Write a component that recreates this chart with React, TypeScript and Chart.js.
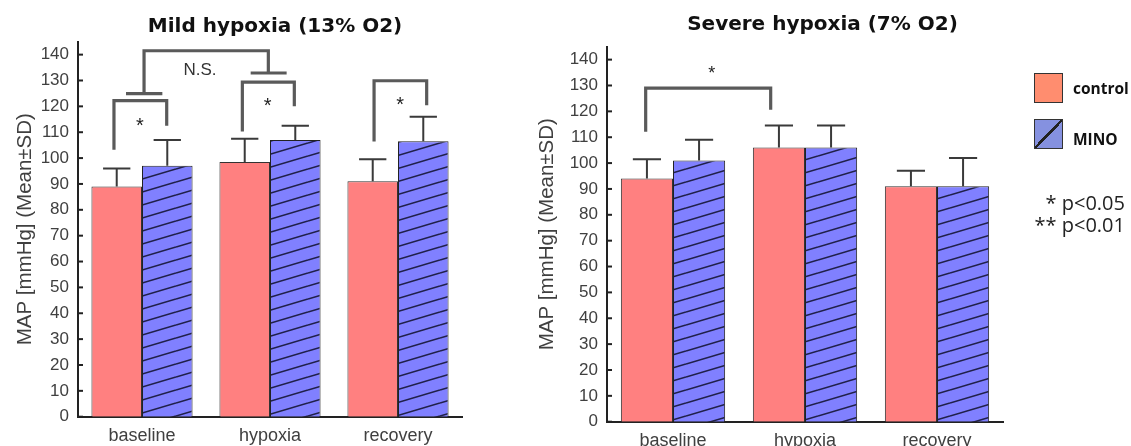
import React, { useEffect, useRef } from "react";
import { Chart, registerables } from "chart.js";

Chart.register(...registerables);

// ---------- data ----------
const categories = ["baseline", "hypoxia", "recovery"];
const seriesNames = ["control", "MINO"];

const mildControl = [89, 98.5, 91];
const mildControlSD = [7, 9, 8.5];
const mildMino = [97, 107, 106.5];
const mildMinoSD = [10, 5.5, 9.5];

const severeControl = [94, 106, 91];
const severeControlSD = [7.5, 8.5, 6];
const severeMino = [101, 106, 91];
const severeMinoSD = [8, 8.5, 11];

const yTickValues = [0, 10, 20, 30, 40, 50, 60, 70, 80, 90, 100, 110, 120, 130, 140];
const yMax = 145;
const chartTitles = ["Mild hypoxia (13% O2)", "Severe hypoxia (7% O2)"];
const yAxisTitle = "MAP [mmHg] (Mean±SD)";
const pLegend = ["* p<0.05", "** p<0.01"];

// significance brackets in (category index, value) units
const mildBrackets = [
  [[-0.219, 103.2], [-0.219, 122.2], [0.193, 122.2], [0.193, 112.5]],
  [[-0.125, 124.9], [0.159, 124.9]],
  [[0.016, 124.9], [0.016, 141.5], [0.987, 141.5], [0.987, 132.9]],
  [[0.849, 132.9], [1.13, 132.9]],
  [[0.784, 110.3], [0.784, 129.4], [1.19, 129.4], [1.19, 120.0]],
  [[1.813, 106.4], [1.813, 129.9], [2.224, 129.9], [2.224, 120.4]],
];
const mildMarks: [string, number, number][] = [
  ["*", -0.016, 114.4],
  ["N.S.", 0.453, 133.8],
  ["*", 0.982, 122.2],
  ["*", 2.016, 122.6],
];
const severeBrackets = [
  [[-0.207, 112.1], [-0.207, 129.0], [0.74, 129.0], [0.74, 120.6]],
];
const severeMarks: [string, number, number][] = [["*", 0.293, 136.5]];

// ---------- helpers ----------
const SANS = "'Liberation Sans', Arial, sans-serif";

function makeHatch(): CanvasPattern | string {
  const c = document.createElement("canvas");
  c.width = 44;
  c.height = 13;
  const g = c.getContext("2d");
  if (!g) return "#8080FF";
  g.fillStyle = "#8080FF";
  g.fillRect(0, 0, 44, 13);
  g.strokeStyle = "#20204a";
  g.lineWidth = 1.6;
  for (let k = -2; k <= 2; k++) {
    g.beginPath();
    g.moveTo(0, 13 + 13 * k);
    g.lineTo(44, 13 * k);
    g.stroke();
  }
  return g.createPattern(c, "repeat") || "#8080FF";
}

const annotPlugin = {
  id: "annot",
  afterDatasetsDraw(chart: any, _args: any, opts: any) {
    const ctx: CanvasRenderingContext2D = chart.ctx;
    const xs = chart.scales.x;
    const ys = chart.scales.y;
    const area = chart.chartArea;
    ctx.save();
    // inward tick marks
    ctx.strokeStyle = "#222";
    ctx.lineWidth = 2;
    ys.ticks.forEach((t: any) => {
      const py = ys.getPixelForValue(t.value);
      ctx.beginPath();
      ctx.moveTo(area.left, py);
      ctx.lineTo(area.left + 5, py);
      ctx.stroke();
    });
    // error bars
    ctx.strokeStyle = "#3a3a3a";
    ctx.lineWidth = 2;
    chart.data.datasets.forEach((ds: any, i: number) => {
      const meta = chart.getDatasetMeta(i);
      meta.data.forEach((el: any, j: number) => {
        const top = ys.getPixelForValue(ds.data[j] + ds.sd[j]);
        const half = el.width * 0.27;
        ctx.beginPath();
        ctx.moveTo(el.x, el.y);
        ctx.lineTo(el.x, top);
        ctx.moveTo(el.x - half, top);
        ctx.lineTo(el.x + half, top);
        ctx.stroke();
      });
    });
    // brackets
    ctx.strokeStyle = "#5a5a5a";
    ctx.lineWidth = 3.2;
    ctx.lineJoin = "miter";
    (opts.brackets || []).forEach((path: number[][]) => {
      ctx.beginPath();
      path.forEach((p, k) => {
        const px = xs.getPixelForValue(p[0]);
        const py = ys.getPixelForValue(p[1]);
        if (k === 0) ctx.moveTo(px, py);
        else ctx.lineTo(px, py);
      });
      ctx.stroke();
    });
    // marks
    ctx.fillStyle = "#222";
    ctx.textAlign = "center";
    (opts.marks || []).forEach((m: [string, number, number]) => {
      const px = xs.getPixelForValue(m[1]);
      const py = ys.getPixelForValue(m[2]);
      if (m[0].startsWith("*")) {
        const size = opts.starSize || 20;
        ctx.font = `${size}px ${SANS}`;
        ctx.textBaseline = "alphabetic";
        ctx.fillText(m[0], px, py + 0.57 * size);
      } else {
        ctx.font = `17px ${SANS}`;
        ctx.fillStyle = "#333";
        ctx.textBaseline = "middle";
        ctx.fillText(m[0], px, py);
        ctx.fillStyle = "#222";
      }
    });
    ctx.restore();
  },
  afterDraw(chart: any, _args: any, opts: any) {
    if (!opts.title) return;
    const ctx: CanvasRenderingContext2D = chart.ctx;
    ctx.save();
    ctx.font = `bold 20px 'DejaVu Sans', Verdana, sans-serif`;
    ctx.fillStyle = "#111";
    ctx.textAlign = "center";
    ctx.textBaseline = "middle";
    ctx.fillText(opts.title, opts.titleX, opts.titleY);
    ctx.restore();
  },
};

type PanelProps = {
  left: number;
  width: number;
  control: number[];
  controlSD: number[];
  mino: number[];
  minoSD: number[];
  title: string;
  titleX: number;
  titleY: number;
  axisWidth: number;
  xAxisHeight: number;
  padTop: number;
  padRight: number;
  yTitlePad: number;
  brackets: number[][][];
  marks: [string, number, number][];
  starSize: number;
};

function Panel(p: PanelProps) {
  const ref = useRef<HTMLCanvasElement | null>(null);
  useEffect(() => {
    if (!ref.current) return;
    const hatch = makeHatch();
    const chart = new Chart(ref.current, {
      type: "bar",
      data: {
        labels: categories,
        datasets: [
          {
            label: seriesNames[0],
            data: p.control,
            sd: p.controlSD,
            backgroundColor: "#FF8080",
            borderColor: "#333",
            borderWidth: 1,
            categoryPercentage: 0.79,
            barPercentage: 1.0,
          } as any,
          {
            label: seriesNames[1],
            data: p.mino,
            sd: p.minoSD,
            backgroundColor: hatch,
            borderColor: "#222",
            borderWidth: 1,
            categoryPercentage: 0.79,
            barPercentage: 1.0,
          } as any,
        ],
      },
      options: {
        animation: false,
        responsive: false,
        events: [],
        layout: { padding: { top: p.padTop, right: p.padRight, left: 0, bottom: 0 } },
        plugins: {
          legend: { display: false },
          tooltip: { enabled: false },
          title: { display: false },
          annot: {
            brackets: p.brackets,
            marks: p.marks,
            starSize: p.starSize,
            title: p.title,
            titleX: p.titleX,
            titleY: p.titleY,
          },
        } as any,
        scales: {
          x: {
            grid: { display: false, drawTicks: false },
            border: { display: true, color: "#222", width: 2 },
            ticks: { font: { size: 18, family: SANS }, color: "#404040", padding: 9 },
            afterFit: (s: any) => {
              s.height = p.xAxisHeight;
            },
          },
          y: {
            min: 0,
            max: yMax,
            grid: { display: false, drawTicks: false },
            border: { display: true, color: "#222", width: 2 },
            ticks: {
              stepSize: 10,
              font: { size: 17, family: SANS },
              color: "#404040",
              padding: 9,
            },
            afterBuildTicks: (s: any) => {
              s.ticks = yTickValues.map((v) => ({ value: v }));
            },
            afterFit: (s: any) => {
              s.width = p.axisWidth;
            },
            title: {
              display: true,
              text: yAxisTitle,
              font: { size: 20.5, family: SANS },
              color: "#404040",
              padding: { top: p.yTitlePad, bottom: 0 },
            },
          },
        },
      } as any,
      plugins: [annotPlugin as any],
    });
    return () => chart.destroy();
  }, []);
  return (
    <canvas
      ref={ref}
      width={p.width}
      height={446}
      style={{ position: "absolute", left: p.left, top: 0, width: p.width, height: 446 }}
    />
  );
}

export default function App() {
  return (
    <div
      style={{
        position: "absolute",
        left: 0,
        top: 0,
        width: 1131,
        height: 446,
        overflow: "hidden",
        background: "#fff",
      }}
    >
      <Panel
        left={0}
        width={500}
        control={mildControl}
        controlSD={mildControlSD}
        mino={mildMino}
        minoSD={mildMinoSD}
        title={chartTitles[0]}
        titleX={275}
        titleY={27}
        axisWidth={78}
        xAxisHeight={29.3}
        padTop={41.7}
        padRight={38}
        yTitlePad={13}
        brackets={mildBrackets}
        marks={mildMarks}
        starSize={20}
      />
      <Panel
        left={510}
        width={621}
        control={severeControl}
        controlSD={severeControlSD}
        mino={severeMino}
        minoSD={severeMinoSD}
        title={chartTitles[1]}
        titleX={312.5}
        titleY={25}
        axisWidth={97}
        xAxisHeight={24.3}
        padTop={46.7}
        padRight={128}
        yTitlePad={25}
        brackets={severeBrackets}
        marks={severeMarks}
        starSize={18}
      />
      {/* legend */}
      <div
        style={{
          position: "absolute",
          left: 1034,
          top: 73,
          width: 29,
          height: 30,
          boxSizing: "border-box",
          border: "1.5px solid #333",
          background: "#FF8D6F",
        }}
      />
      <div
        style={{
          position: "absolute",
          left: 1073,
          top: 77,
          lineHeight: "20px",
          font: "bold 15.5px 'Open Sans', sans-serif",
          color: "#111",
        }}
      >
        {seriesNames[0]}
      </div>
      <div
        style={{
          position: "absolute",
          left: 1034,
          top: 119,
          width: 29,
          height: 30,
          boxSizing: "border-box",
          border: "1.5px solid #333",
          background:
            "linear-gradient(to bottom right, #8591E0 calc(50% - 1.3px), #222 calc(50% - 1.3px), #222 calc(50% + 1.3px), #8591E0 calc(50% + 1.3px))",
        }}
      />
      <div
        style={{
          position: "absolute",
          left: 1073,
          top: 128,
          lineHeight: "20px",
          font: "bold 15.5px 'Open Sans', sans-serif",
          color: "#111",
        }}
      >
        {seriesNames[1]}
      </div>
      {pLegend.map((t, i) => (
        <div
          key={t}
          style={{
            position: "absolute",
            left: 970,
            width: 155,
            top: 189 + i * 21.6,
            textAlign: "right",
            lineHeight: "22px",
            font: "20px 'Open Sans', sans-serif",
            color: "#222",
            whiteSpace: "pre",
          }}
        >
          {t}
        </div>
      ))}
    </div>
  );
}
